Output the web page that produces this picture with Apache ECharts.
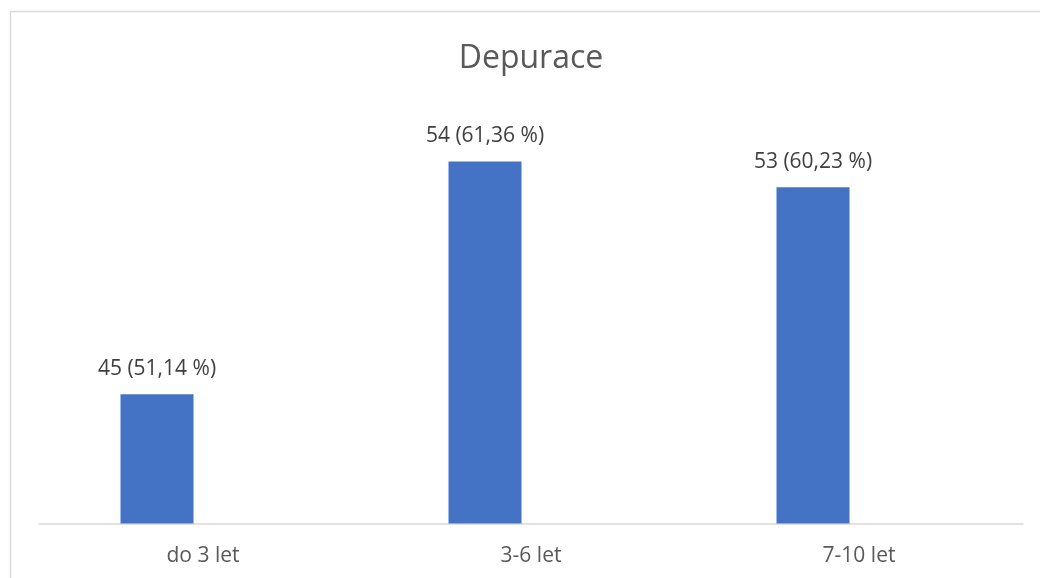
<!DOCTYPE html>
<html>
<head>
<meta charset="utf-8">
<script src="https://cdn.jsdelivr.net/npm/echarts@6/dist/echarts.min.js"></script>
<style>
  html, body { margin: 0; padding: 0; background: #ffffff; }
  #chart { width: 1040px; height: 578px; }
</style>
</head>
<body>
<div id="chart"></div>
<script>
// Age groups and counts of children with depuration
const categories = ['do 3 let', '3-6 let', '7-10 let'];
const counts = [45, 54, 53];
const percents = ['51,14', '61,36', '60,23'];
// Second (empty) series of the clustered layout
const emptySeries = [null, null, null];

const FONT = '"Open Sans", "Noto Sans", sans-serif';

const chart = echarts.init(document.getElementById('chart'), null, { renderer: 'canvas' });

chart.setOption({
  backgroundColor: '#ffffff',
  animation: false,
  title: {
    text: 'Depurace',
    left: 526,
    top: 38,
    textAlign: 'center',
    textStyle: {
      fontFamily: FONT,
      fontSize: 32,
      fontWeight: 'normal',
      color: '#595959'
    }
  },
  graphic: [{
    type: 'rect',
    silent: true,
    shape: { x: 10.5, y: 11.5, width: 1200, height: 800 },
    style: { fill: 'none', stroke: '#d9d9d9', lineWidth: 1.5 }
  }],
  grid: { left: 39, right: 17, top: 109.7, bottom: 54.5, containLabel: false },
  xAxis: {
    type: 'category',
    data: categories,
    axisLine: { show: true, lineStyle: { color: '#d9d9d9', width: 1.5 } },
    axisTick: { show: false },
    axisLabel: {
      margin: 22,
      fontFamily: FONT,
      fontSize: 21,
      color: '#595959'
    }
  },
  yAxis: {
    type: 'value',
    min: 40,
    max: 56,
    show: false,
    splitLine: { show: false }
  },
  series: [
    {
      type: 'bar',
      data: counts,
      barWidth: 73,
      barGap: '26%',
      itemStyle: { color: '#4472c4' },
      label: {
        show: true,
        position: 'top',
        distance: 15,
        fontFamily: FONT,
        fontSize: 21,
        color: '#404040',
        formatter: p => p.value + ' (' + percents[p.dataIndex] + ' %)'
      }
    },
    {
      type: 'bar',
      data: emptySeries,
      barWidth: 73,
      itemStyle: { color: '#ed7d31' }
    }
  ]
});
</script>
</body>
</html>
